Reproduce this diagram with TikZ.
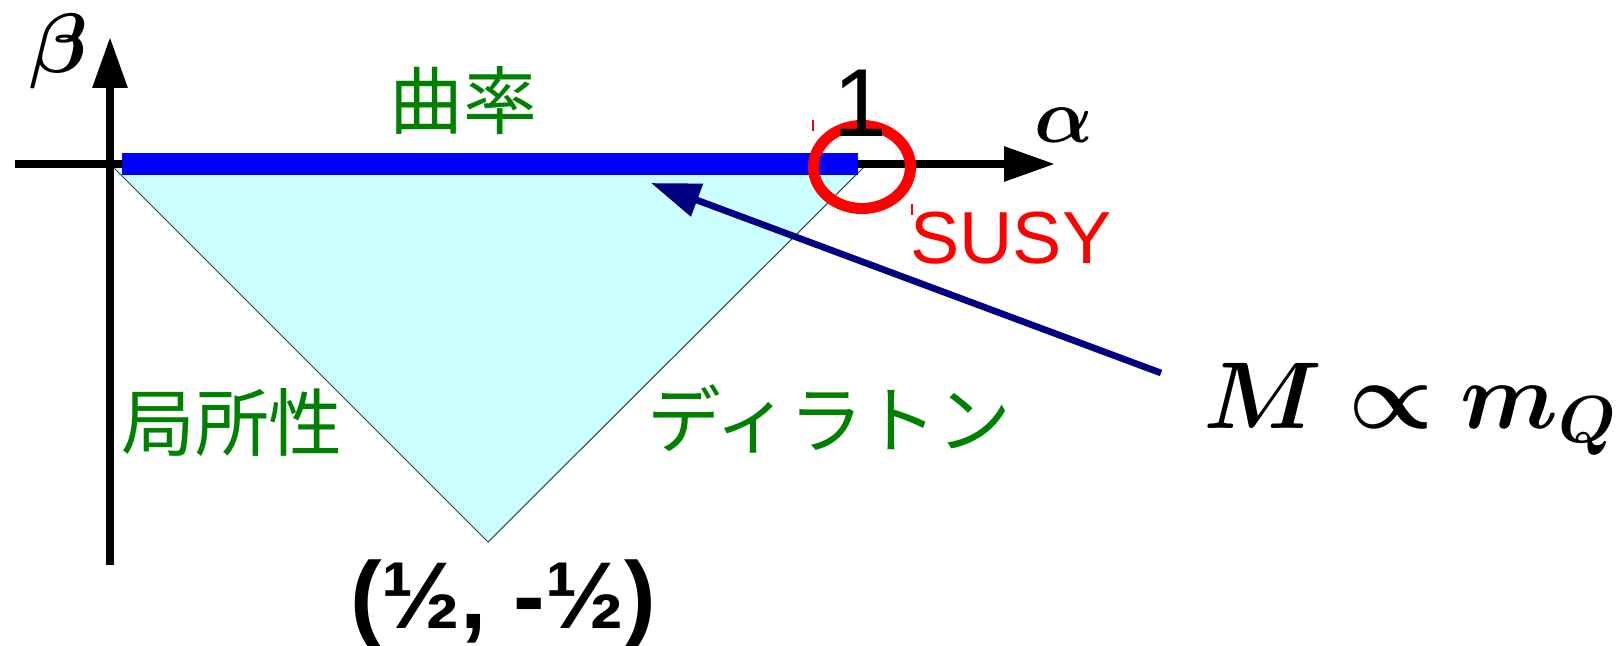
\RequirePackage{fix-cm}
\documentclass[tikz,border=0pt]{standalone}
\usepackage{bm}
\usepackage{fontspec}
\setmainfont{Liberation Sans}
\newfontfamily\jpfont{Noto Sans CJK JP}
\usetikzlibrary{arrows.meta}
\definecolor{jpgreen}{RGB}{0,128,0}
\definecolor{regionfill}{RGB}{204,255,255}
\definecolor{arrnavy}{RGB}{0,0,128}
\definecolor{labred}{RGB}{255,0,0}
\newcommand\jpsize{\jpfont\fontsize{42pt}{44pt}\selectfont}
\newcommand\betasize{\fontsize{48pt}{50pt}\selectfont}
\newcommand\alphasize{\fontsize{44pt}{46pt}\selectfont}
\newcommand\onesize{\fontsize{55pt}{57pt}\selectfont}
\newcommand\susysize{\fontsize{42pt}{44pt}\selectfont}
\newcommand\bigsize{\fontsize{54pt}{56pt}\selectfont}

\begin{document}
\begin{tikzpicture}[x=0.02cm, y=-0.02cm,
		axis/.style={line width=4.5pt, -{Triangle[length=29pt,width=19pt]}},
		jplabel/.style={text=jpgreen, inner sep=0pt, font=\jpsize},
		txtlabel/.style={inner sep=0pt}]
		\useasboundingbox (0,0) rectangle (1624,646);
		% allowed region
		\coordinate (orig) at (112,166);
		\coordinate (one) at (865,166);
		\coordinate (half) at (488,542);
		\fill[regionfill] (orig) -- (one) -- (half) -- cycle;
		\draw[black!75, line width=0.6pt] (one) -- (half) -- (orig);
		% axes
		\coordinate (xstart) at (15,164);
		\coordinate (xend) at (1055,164);
		\coordinate (ystart) at (110,565);
		\coordinate (yend) at (110,37);
		\draw[axis] (xstart) -- (xend);
		\draw[axis] (ystart) -- (yend);
		\coordinate (barl) at (122,164);
		\coordinate (barr) at (858,164);
		\draw[blue, line width=12.5pt] (barl) -- (barr);
		\coordinate (susyc) at (862,167);
		\draw[labred, line width=6.3pt] (susyc) ellipse [x radius=0.97cm, y radius=0.83cm];
		\draw[labred, line width=0.6pt] (813,120) -- (813,131);
		\draw[labred, line width=0.6pt] (912,204) -- (912,215);
		% labels
		\node[txtlabel, font=\betasize] (betalbl) at (59,51) {$\bm{\beta}$};
		\node[txtlabel, font=\alphasize] (alphalbl) at (1064,125) {$\bm{\alpha}$};
		\node[txtlabel, anchor=base, font=\onesize] (onelbl) at (860,136) {1};
		\node[jplabel] (curv) at (463,101) {曲率};
		\node[jplabel] (local) at (232,422) {局所性};
		\node[jplabel] (dilaton) at (829,419) {ディラトン};
		\node[txtlabel, anchor=base west, text=labred, font=\susysize] (susy) at (910,263) {SUSY};
		\node[txtlabel, anchor=base, font=\bfseries\bigsize] (halfpt) at (503,628) {(½, -½)};
		\node[txtlabel, anchor=base west, font=\bigsize] (mq) at (1203,428) {$\bm{M\propto m_Q}$};
		% mass arrow
		\coordinate (arrstart) at (1161,373);
		\coordinate (arrtip) at (651,183);
		\draw[arrnavy, line width=3.8pt, -{Triangle[length=28pt,width=19pt]}] (arrstart) -- (arrtip);
	\end{tikzpicture}
\end{document}
